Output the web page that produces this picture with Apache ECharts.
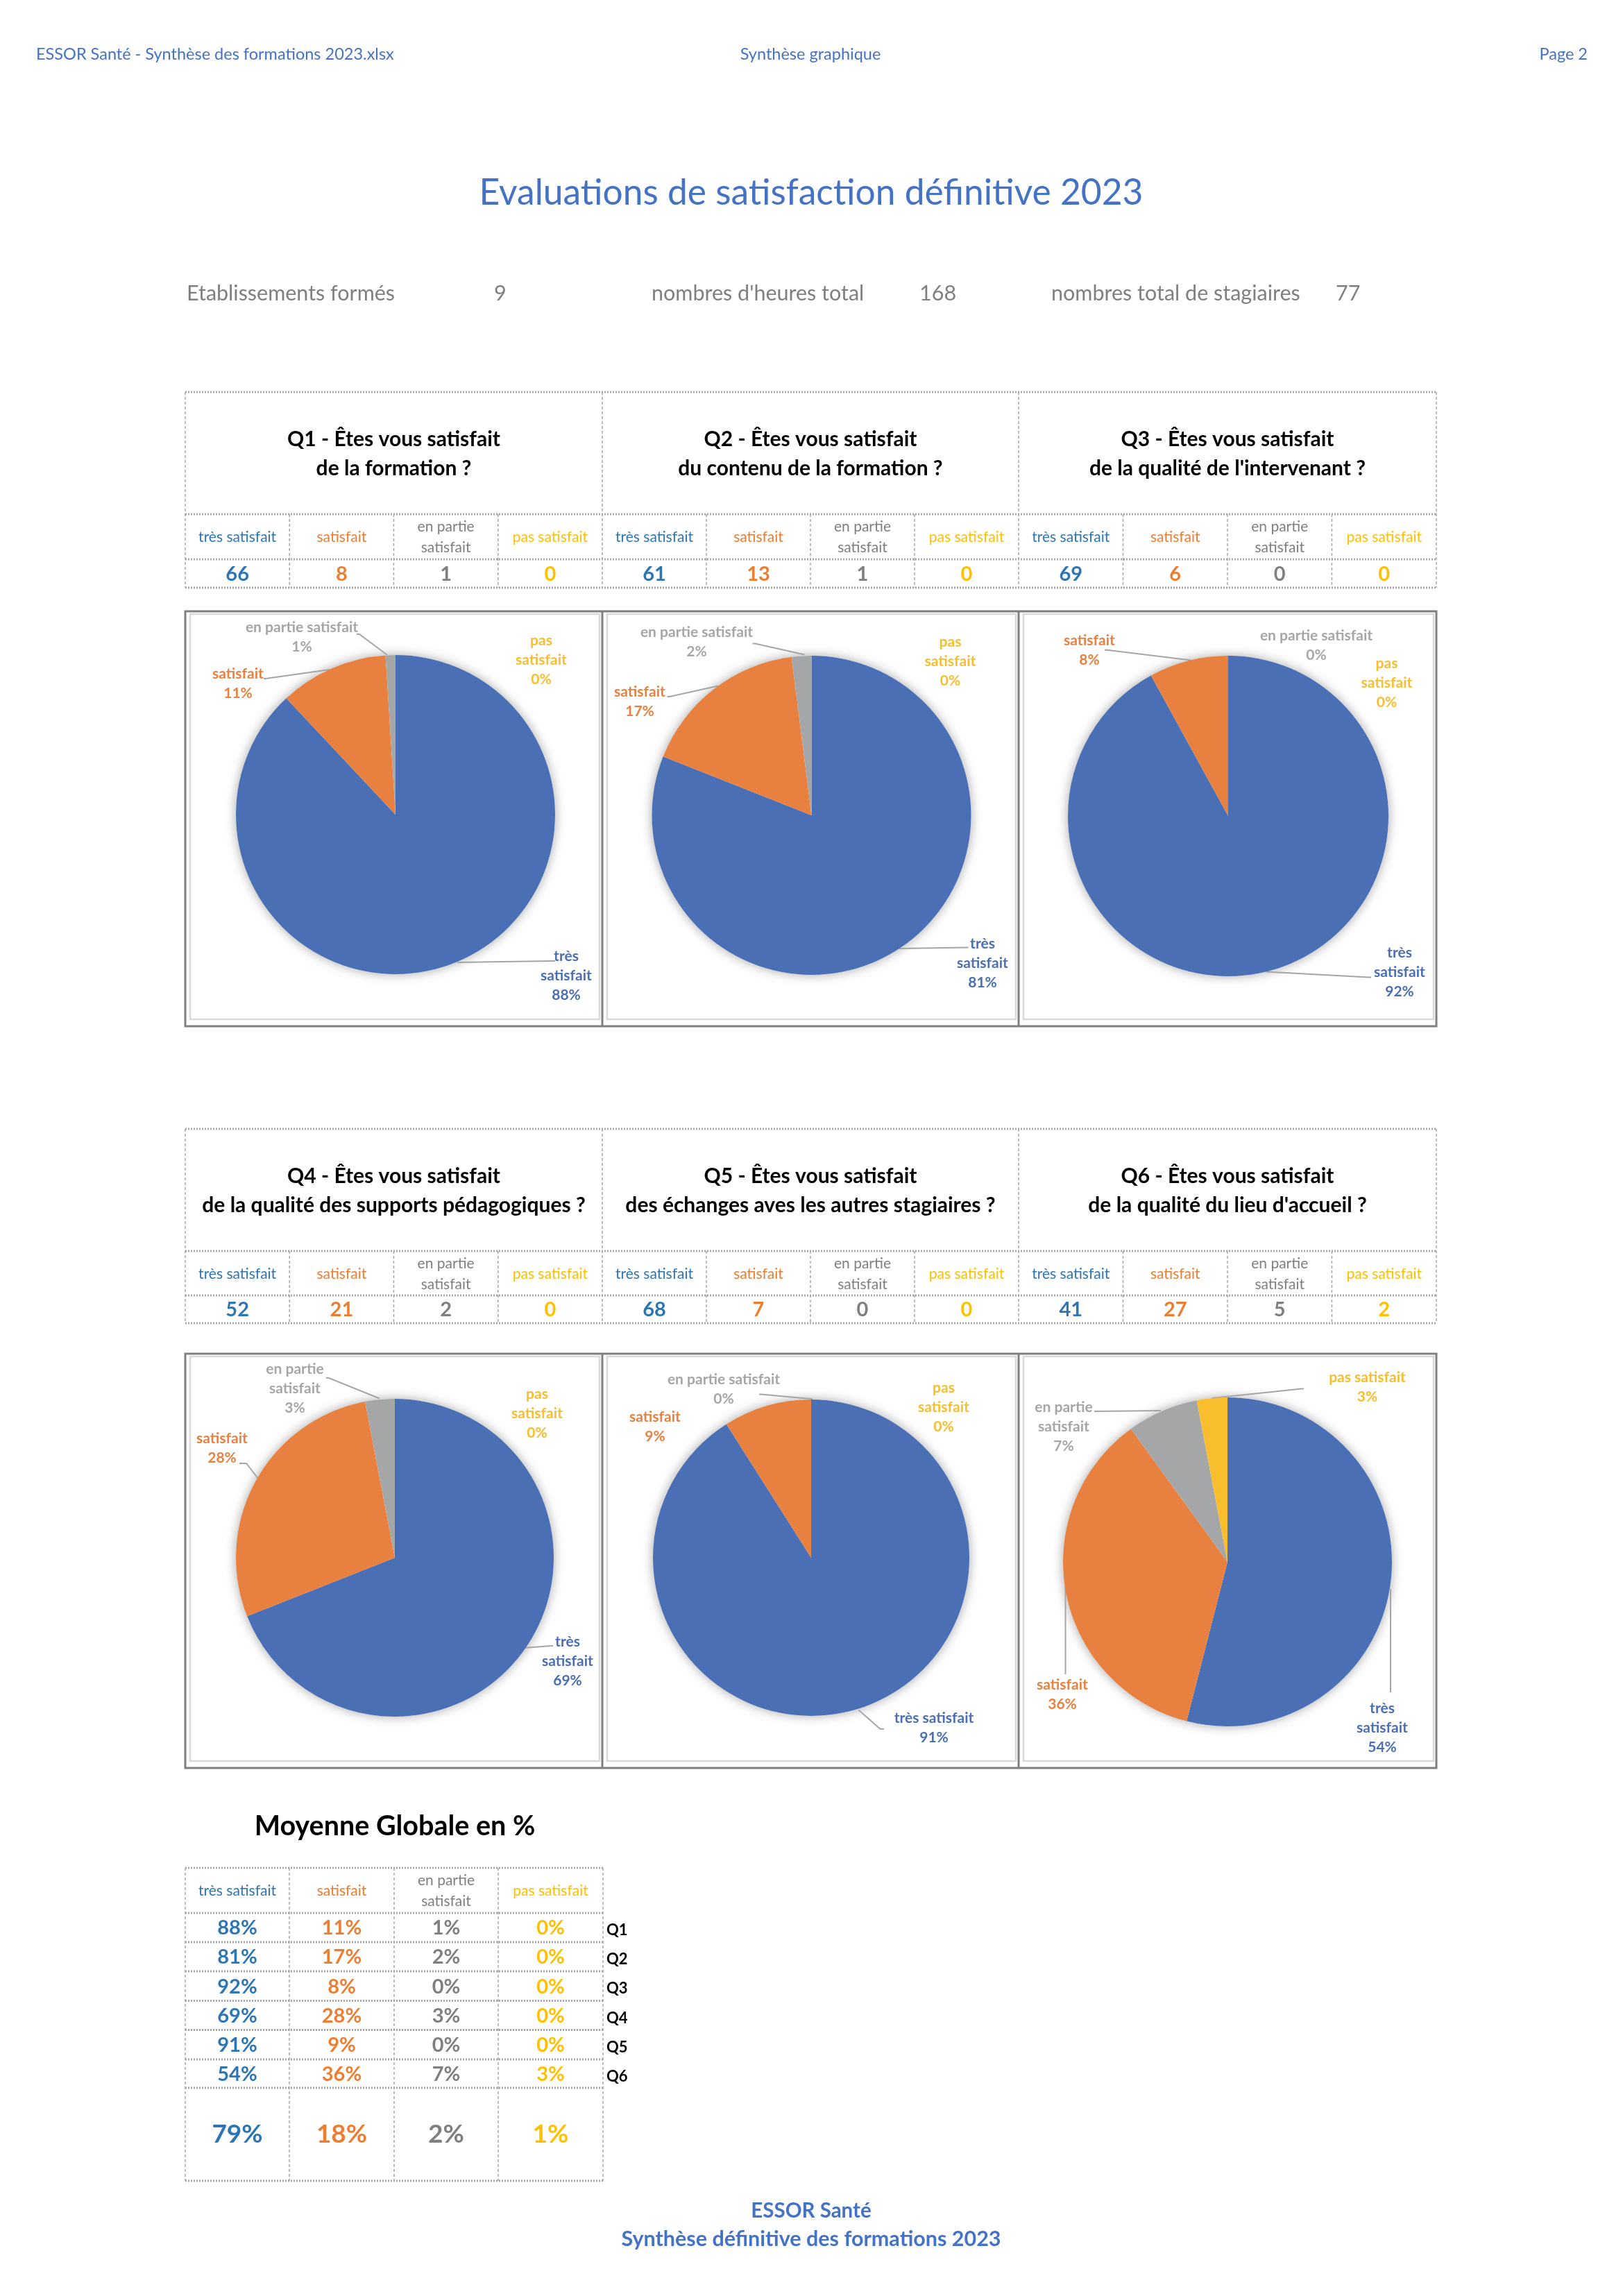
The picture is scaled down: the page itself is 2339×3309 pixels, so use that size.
<!DOCTYPE html>
<html><head><meta charset="utf-8">
<script src="https://cdn.jsdelivr.net/npm/echarts@6/dist/echarts.min.js"></script>
<style>html,body{margin:0;padding:0;background:#fff}#c{width:2339px;height:3309px}</style>
</head><body><div id="c"></div>
<script>
// ---------------- DATA ----------------
const categories = ['très satisfait', 'satisfait', 'en partie satisfait', 'pas satisfait'];
const questionLine1 = ['Q1 - Êtes vous satisfait', 'Q2 - Êtes vous satisfait', 'Q3 - Êtes vous satisfait',
  'Q4 - Êtes vous satisfait', 'Q5 - Êtes vous satisfait', 'Q6 - Êtes vous satisfait'];
const questionLine2 = ['de la formation ?', 'du contenu de la formation ?', "de la qualité de l'intervenant ?",
  'de la qualité des supports pédagogiques ?', 'des échanges aves les autres stagiaires ?', "de la qualité du lieu d'accueil ?"];
const questionTags = ['Q1', 'Q2', 'Q3', 'Q4', 'Q5', 'Q6'];
const countsQ1 = [66, 8, 1, 0];
const countsQ2 = [61, 13, 1, 0];
const countsQ3 = [69, 6, 0, 0];
const countsQ4 = [52, 21, 2, 0];
const countsQ5 = [68, 7, 0, 0];
const countsQ6 = [41, 27, 5, 2];
const pctQ1 = [88, 11, 1, 0];
const pctQ2 = [81, 17, 2, 0];
const pctQ3 = [92, 8, 0, 0];
const pctQ4 = [69, 28, 3, 0];
const pctQ5 = [91, 9, 0, 0];
const pctQ6 = [54, 36, 7, 3];
const avgPct = [79, 18, 2, 1];
const statLabels = ['Etablissements formés', "nombres d'heures total", 'nombres total de stagiaires'];
const statValues = [9, 168, 77];
const headerTexts = ['ESSOR Santé - Synthèse des formations 2023.xlsx', 'Synthèse graphique', 'Page 2'];
const pageTitle = 'Evaluations de satisfaction définitive 2023';
const avgTitle = 'Moyenne Globale en %';
const footerLines = ['ESSOR Santé', 'Synthèse définitive des formations 2023'];

const allCounts = [countsQ1, countsQ2, countsQ3, countsQ4, countsQ5, countsQ6];
const allPct = [pctQ1, pctQ2, pctQ3, pctQ4, pctQ5, pctQ6];

// ---------------- STYLE / LAYOUT ----------------
const FONT = 'Lato';
const sliceColors = ['#4A6FB5', '#E8803F', '#A5A6A8', '#F8BE2E'];
const pieLabelColors = ['#4A6FB5', '#E8803F', '#A5A6A8', '#F8BE2E'];
const tableColors = ['#2E75B6', '#ED7D31', '#7F7F7F', '#FFC000'];
const BLUE = '#4472C4';
const DASH = '#A6A6A6';

const blocksX = [267, 868, 1468, 2070];
const tableRowsY = [[565, 741, 806, 847], [1627, 1803, 1867, 1907]];
const chartBoxY = [[881, 1479], [1951, 2548]];
const pieCenters = [[570, 1174], [1169.5, 1175], [1770, 1176], [569, 2245], [1169, 2245], [1769, 2251]];
const pieR = [230, 230, 231, 229, 228, 237];
// label placement per chart, per category: [dx, dy, wrap, leader line points relative to centre]
const labelSpecs = [
  [[246, 232, 1, [[89, 213], [224, 211], [230, 211]]], [-227, -188.5, 0, [[-95, -209], [-187, -196], [-190, -196]]],
   [-135, -255.5, 0, [[-12, -230], [-52, -260], [-56, -260]]], [210, -223, 1, null]],
  [[246.5, 213, 1, [[126.5, 192], [223.5, 190.6], [226, 190.6]]], [-247.5, -164, 0, [[-134.5, -186.6], [-204.5, -171], [-208, -171]]],
   [-165.5, -249.4, 0, [[-10, -231.5], [-81.5, -247.4], [-85, -247.4]]], [200, -221.5, 1, null]],
  [[247, 225, 1, [[55, 224.6], [203, 232.6], [206, 232.6]]], [-200, -239, 0, [[-54, -224.5], [-174.6, -239.2], [-178, -239.2]]],
   [127, -246, 0, null], [228.5, -192, 1, null]],
  [[249, 149.5, 1, [[186, 130], [225, 127], [228, 127]]], [-249, -158, 0, [[-197, -114], [-214, -136], [-224, -136]]],
   [-144, -243.4, 1, [[-22, -229.5], [-95.5, -259.3], [-99, -259.3]]], [205, -208, 1, null]],
  [[177, 245, 0, [[68.4, 219.6], [99.5, 246.7], [105, 246.7]]], [-225, -188.5, 0, null],
   [-126, -242.4, 0, [[2, -228.7], [-72, -235.4], [-75, -235.4]]], [191, -217, 1, null]],
  [[223, 239, 1, [[235, 38.8], [235, 188], [235, 188]]], [-238, 191, 0, [[-233.5, 34.8], [-233.5, 162], [-233.5, 162]]],
   [-236, -195, 1, [[-96, -218], [-189, -217], [-192, -217]]], [201.5, -252, 0, [[-22, -236], [106.6, -249.4], [110, -249.4]]]]
];

const els = [];
function T(x, y, text, size, color, weight, align, lh) {
  els.push({ type: 'text', x: x, y: y, silent: true, z: 10,
    style: { text: String(text), fill: color, fontSize: size, fontFamily: FONT, fontWeight: weight || 'normal',
      align: align || 'center', verticalAlign: 'middle', lineHeight: lh || Math.round(size * 1.2) } });
}
function Ln(x1, y1, x2, y2, stroke, w, dash) {
  els.push({ type: 'line', silent: true, z: 5, shape: { x1, y1, x2, y2 },
    style: { stroke: stroke, lineWidth: w, lineDash: dash || null } });
}
function Rc(x, y, w, h, stroke, lw) {
  els.push({ type: 'rect', silent: true, z: 4, shape: { x, y, width: w, height: h },
    style: { fill: 'none', stroke: stroke, lineWidth: lw } });
}
function wrapName(n) { const i = n.lastIndexOf(' '); return i > 0 ? n.slice(0, i) + '\n' + n.slice(i + 1) : n; }

// header
T(52, 78, headerTexts[0], 23.5, BLUE, 'normal', 'left');
T(1168, 78, headerTexts[1], 23.5, BLUE, 'normal', 'center');
T(2288, 78, headerTexts[2], 23.5, BLUE, 'normal', 'right');
// title
T(1169, 278, pageTitle, 51.5, BLUE, 'normal', 'center');
// stats
const statLabelX = [269, 939, 1515], statValueX = [712, 1325, 1925];
for (let i = 0; i < 3; i++) {
  T(statLabelX[i], 423, statLabels[i], 30.5, '#7F7F7F', 'normal', 'left');
  T(statValueX[i], 423, statValues[i], 30.5, '#7F7F7F', 'normal', 'left');
}

// question tables
function dashH(x1, x2, y) { Ln(x1, y, x2, y, DASH, 3, [2, 2]); }
function dashV(x, y1, y2) { Ln(x, y1, x, y2, DASH, 1.5, [4, 3]); }
for (let row = 0; row < 2; row++) {
  const ys = tableRowsY[row];
  const x0 = blocksX[0], x3 = blocksX[3];
  ys.forEach(y => dashH(x0, x3, y));
  blocksX.forEach(x => dashV(x, ys[0], ys[3]));
  for (let b = 0; b < 3; b++) {
    const q = row * 3 + b;
    const bx0 = blocksX[b], bx1 = blocksX[b + 1], bw = bx1 - bx0, cx = (bx0 + bx1) / 2;
    for (let k = 1; k < 4; k++) dashV(bx0 + k * bw / 4, ys[1], ys[3]);
    T(cx, ys[0] + 68, questionLine1[q], 30, '#000', 'bold');
    T(cx, ys[0] + 110, questionLine2[q], 30, '#000', 'bold');
    for (let k = 0; k < 4; k++) {
      const sx = bx0 + (k + 0.5) * bw / 4;
      const lab = k === 2 ? wrapName(categories[k]) : categories[k];
      T(sx, (ys[1] + ys[2]) / 2 + 1, lab, 21, tableColors[k], 'normal', 'center', 30);
      T(sx, (ys[2] + ys[3]) / 2 + 1, allCounts[q][k], 29, tableColors[k], 'bold');
    }
  }
}

// chart boxes
for (let row = 0; row < 2; row++) {
  const [y0, y1] = chartBoxY[row];
  Rc(blocksX[0], y0, blocksX[3] - blocksX[0], y1 - y0, '#808080', 3);
  Ln(blocksX[1], y0, blocksX[1], y1, '#808080', 3);
  Ln(blocksX[2], y0, blocksX[2], y1, '#808080', 3);
  for (let b = 0; b < 3; b++) {
    Rc(blocksX[b] + 7, y0 + 4, blocksX[b + 1] - blocksX[b] - 11, y1 - y0 - 14, '#D9D9D9', 2.5);
  }
}

// average table
const avgX = [267, 417, 568, 718, 869];
const avgY = [2692, 2757, 2799, 2841, 2883.5, 2925.5, 2968, 3009, 3143];
T(569, 2632, avgTitle, 39.5, '#000', 'bold');
avgY.forEach(y => Ln(avgX[0], y, avgX[4], y, DASH, 3, [2, 2]));
avgX.forEach(x => Ln(x, avgY[0], x, avgY[8], DASH, 1.5, [4, 3]));
for (let k = 0; k < 4; k++) {
  const sx = (avgX[k] + avgX[k + 1]) / 2;
  const lab = k === 2 ? wrapName(categories[k]) : categories[k];
  T(sx, (avgY[0] + avgY[1]) / 2 + 1, lab, 21, tableColors[k], 'normal', 'center', 30);
  for (let q = 0; q < 6; q++) {
    T(sx, (avgY[q + 1] + avgY[q + 2]) / 2 + 1, allPct[q][k] + '%', 29, tableColors[k], 'bold');
  }
  T(sx, (avgY[7] + avgY[8]) / 2, avgPct[k] + '%', 37, tableColors[k], 'bold');
}
for (let q = 0; q < 6; q++) T(874, (avgY[q + 1] + avgY[q + 2]) / 2 + 4, questionTags[q], 22, '#000', 'bold', 'left');

// footer
T(1169, 3186, footerLines[0], 29.5, BLUE, 'bold');
T(1169, 3227, footerLines[1], 30.5, BLUE, 'bold');

// ---------------- PIES ----------------
const series = [];
for (let q = 0; q < 6; q++) {
  const [cx, cy] = pieCenters[q];
  const specs = labelSpecs[q];
  const total = allPct[q].reduce((a, b) => a + b, 0);
  // shadow disc under the pie (Excel glow)
  series.push({ type: 'pie', center: [cx, cy], radius: pieR[q], silent: true, z: 1,
    label: { show: false }, labelLine: { show: false }, animation: false,
    itemStyle: { color: '#fff', shadowBlur: 16, shadowColor: 'rgba(0,0,0,0.35)' },
    data: [{ value: total, name: 'bg' }] });
  series.push({
    type: 'pie', center: [cx, cy], radius: pieR[q], startAngle: 90, clockwise: true,
    avoidLabelOverlap: false, animation: false, silent: true, z: 2,
    data: allPct[q].map((v, i) => ({ value: v, name: categories[i],
      itemStyle: { color: sliceColors[i] },
      label: { color: pieLabelColors[i] },
      labelLine: { show: !!specs[i][3] } })),
    label: { show: true, position: 'outside', fontFamily: FONT, fontWeight: 'bold', fontSize: 21, lineHeight: 28,
      formatter: p => (specs[p.dataIndex][2] ? wrapName(p.name) : p.name) + '\n' + p.value + '%' },
    labelLine: { show: true, length: 5, length2: 5, lineStyle: { color: '#A5A5A5', width: 2 } },
    labelLayout: function (params) {
      const s = specs[params.dataIndex];
      const r = { x: cx + s[0], y: cy + s[1], align: 'center', verticalAlign: 'middle' };
      if (s[3]) r.labelLinePoints = s[3].map(p => [cx + p[0], cy + p[1]]);
      return r;
    },
    itemStyle: { borderWidth: 0 },
    emphasis: { disabled: true }
  });
}

const chart = echarts.init(document.getElementById('c'), null, { renderer: 'canvas' });
chart.setOption({
  backgroundColor: '#fff',
  animation: false,
  textStyle: { fontFamily: FONT },
  series: series,
  graphic: { elements: els }
});
</script></body></html>
